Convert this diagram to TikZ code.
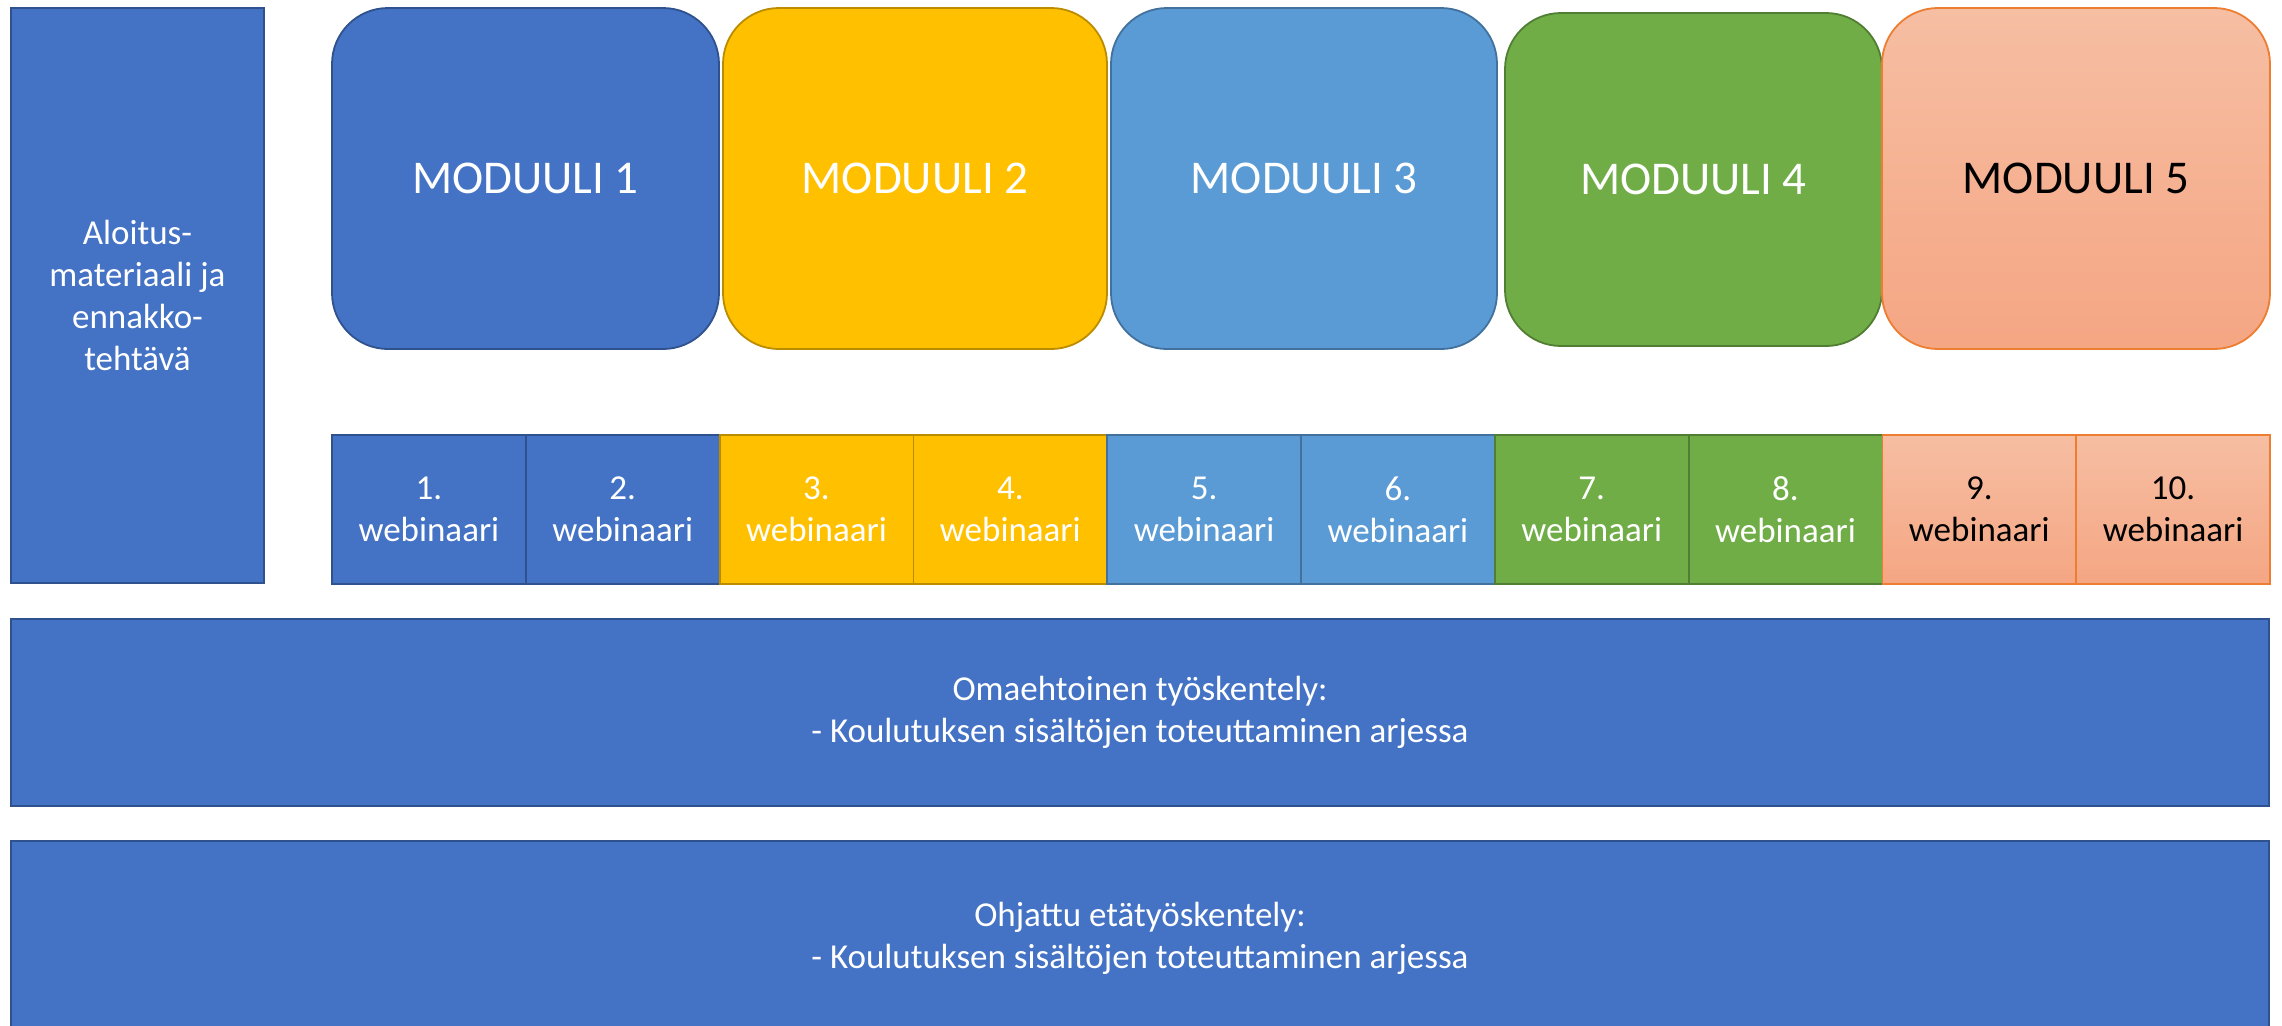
\documentclass[tikz,border=0pt]{standalone}
\usepackage{fontspec}
\setmainfont{Carlito}
\usetikzlibrary{positioning}
\definecolor{blueA}{HTML}{4472C4}
\definecolor{blueAline}{HTML}{2F528F}
\definecolor{gold}{HTML}{FFC000}
\definecolor{goldline}{HTML}{BC8C00}
\definecolor{blueB}{HTML}{5B9BD5}
\definecolor{blueBline}{HTML}{41719C}
\definecolor{grn}{HTML}{70AD47}
\definecolor{grnline}{HTML}{507E32}
\definecolor{peachtop}{HTML}{F6BEA3}
\definecolor{peachbot}{HTML}{F5A683}
\definecolor{peachline}{HTML}{ED7D31}

\begin{document}
\begin{tikzpicture}[x=0.5pt, y=-0.5pt,
  box/.style={draw, line width=0.9pt, outer sep=0pt, inner sep=0pt,
    text=white, align=center, font=\fontsize{17.5}{21}\selectfont},
  modbox/.style={box, rounded corners=28pt, minimum height=170.5pt,
    font=\fontsize{23.5}{28}\selectfont},
  webbox/.style={box, minimum width=96.9pt, minimum height=74.5pt},
  bluea/.style={fill=blueA, draw=blueAline},
  goldc/.style={fill=gold, draw=goldline},
  blueb/.style={fill=blueB, draw=blueBline},
  greenc/.style={fill=grn, draw=grnline},
  peach/.style={top color=peachtop, bottom color=peachbot, draw=peachline, text=black}]
  \useasboundingbox (0,0) rectangle (2282,1025);
  % Define nodes
  \node[box, bluea, minimum width=126.5pt, minimum height=287.5pt] (start) at (137.5,295.5)
    {Aloitus-\\materiaali ja\\ennakko-\\tehtävä};
  \node[modbox, bluea, minimum width=193.5pt] (m1) at (525.5,178.5) {MODUULI 1};
  \node[modbox, goldc, minimum width=192pt] (m2) at (915,178.5) {MODUULI 2};
  \node[modbox, blueb, minimum width=193pt] (m3) at (1304,178.5) {MODUULI 3};
  \node[modbox, greenc, minimum width=188.5pt, minimum height=166.5pt] (m4) at (1693.5,179.5) {MODUULI 4};
  \node[modbox, peach, minimum width=194pt] (m5) at (2076,178.5) {MODUULI 5};
  % Webinars
  \node[webbox, bluea, anchor=north west] (w1) at (332,435) {1.\\webinaari};
  \node[webbox, bluea, right=0pt of w1] (w2) {2.\\webinaari};
  \node[webbox, goldc, right=0pt of w2] (w3) {3.\\webinaari};
  \node[webbox, goldc, right=0pt of w3] (w4) {4.\\webinaari};
  \node[webbox, blueb, right=0pt of w4] (w5) {5.\\webinaari};
  \node[webbox, blueb, right=0pt of w5] (w6) {6.\\webinaari};
  \node[webbox, greenc, right=0pt of w6] (w7) {7.\\webinaari};
  \node[webbox, greenc, right=0pt of w7] (w8) {8.\\webinaari};
  \node[webbox, peach, right=0pt of w8] (w9) {9.\\webinaari};
  \node[webbox, peach, right=0pt of w9] (w10) {10.\\webinaari};
  % Work bars
  \node[box, bluea, minimum width=1129pt, minimum height=93.5pt] (own) at (1140,712.5)
    {Omaehtoinen työskentely:\\- Koulutuksen sisältöjen toteuttaminen arjessa};
  \node[box, bluea, minimum width=1129pt, minimum height=97pt] (remote) at (1140,938)
    {Ohjattu etätyöskentely:\\- Koulutuksen sisältöjen toteuttaminen arjessa};
\end{tikzpicture}
\end{document}
